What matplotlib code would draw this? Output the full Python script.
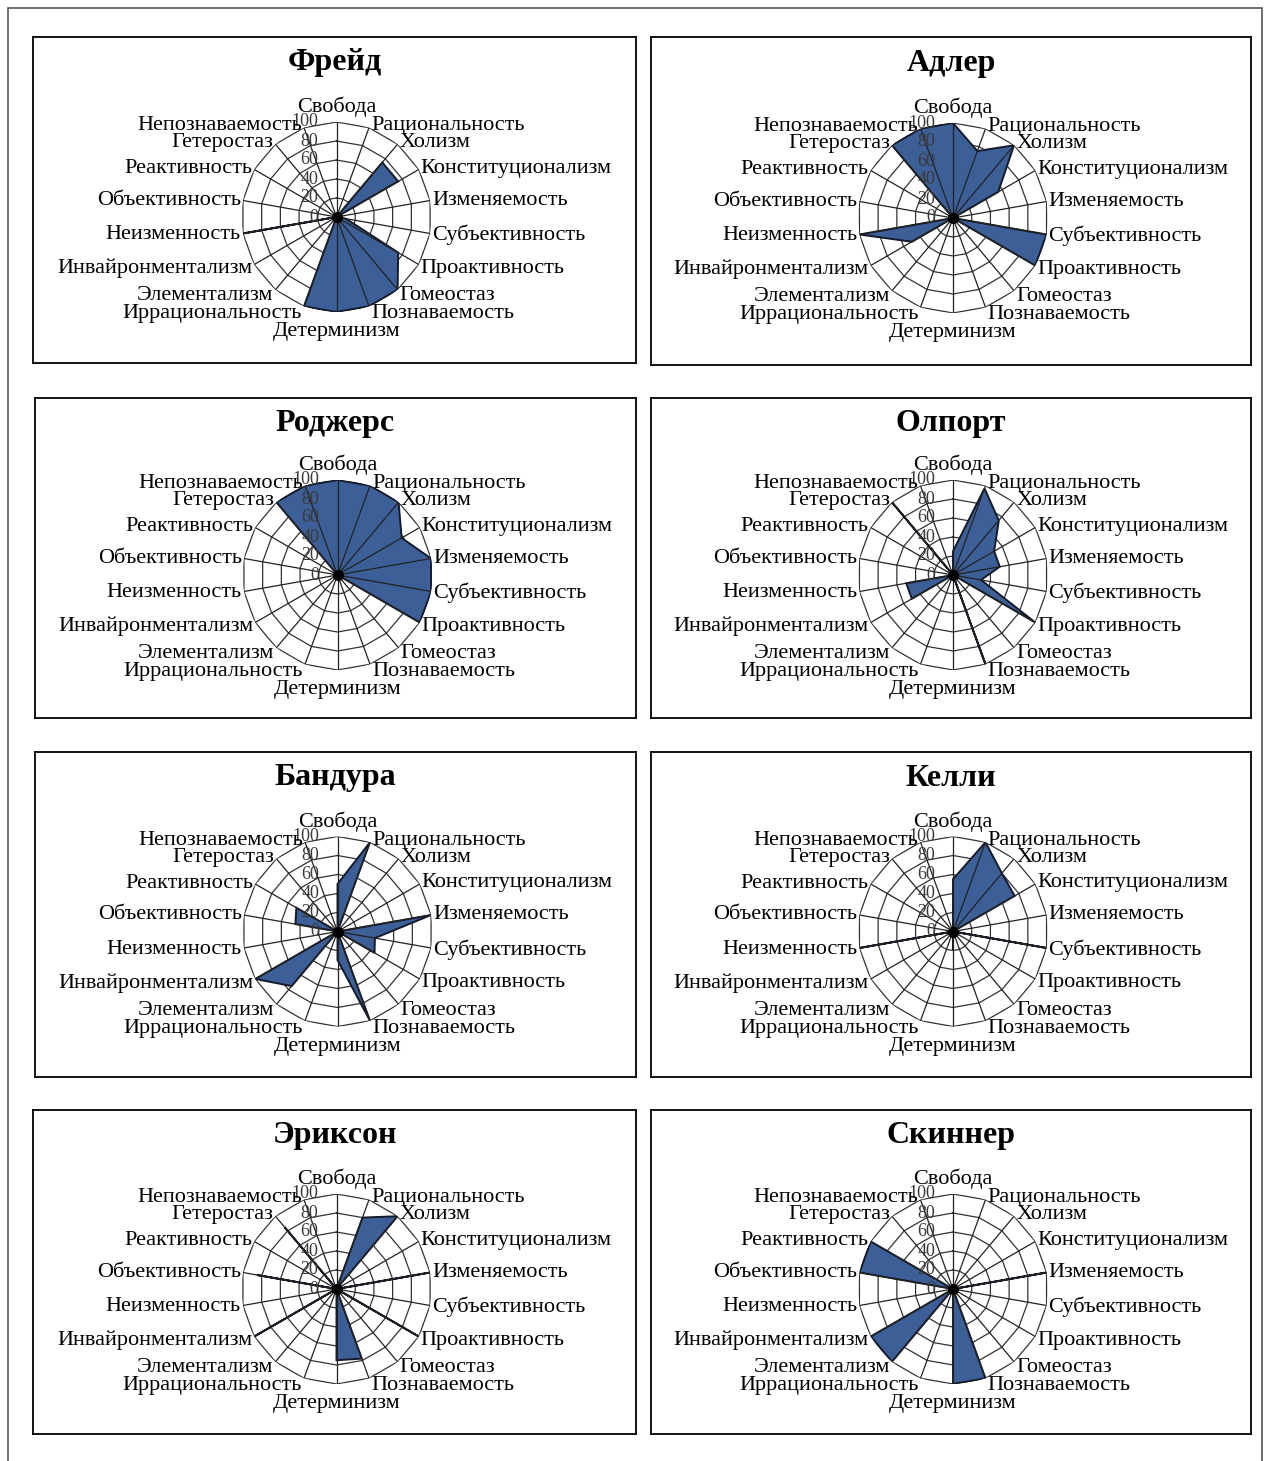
import matplotlib.pyplot as plt
import matplotlib.transforms as mtransforms
from matplotlib.patches import Rectangle
import numpy as np

plt.rcParams['font.family'] = ['Liberation Serif', 'DejaVu Serif']

categories = ['Свобода', 'Рациональность', 'Холизм', 'Конституционализм',
              'Изменяемость', 'Субъективность', 'Проактивность', 'Гомеостаз',
              'Познаваемость', 'Детерминизм', 'Иррациональность', 'Элементализм',
              'Инвайронментализм', 'Неизменность', 'Объективность', 'Реактивность',
              'Гетеростаз', 'Непознаваемость']

names = ['Фрейд', 'Адлер', 'Роджерс', 'Олпорт', 'Бандура', 'Келли', 'Эриксон', 'Скиннер']

freud = [0, 0, 75, 75, 0, 10, 75, 100, 100, 100, 100, 0, 0, 100, 0, 0, 0, 0]
adler = [100, 75, 100, 55, 0, 100, 100, 0, 0, 0, 0, 0, 50, 100, 0, 0, 100, 100]
rogers = [100, 100, 100, 78, 100, 100, 100, 0, 0, 0, 0, 0, 0, 0, 0, 0, 100, 100]
allport = [25, 97, 75, 50, 50, 30, 100, 0, 100, 0, 0, 0, 50, 50, 0, 0, 100, 0]
bandura = [50, 100, 0, 0, 100, 40, 45, 0, 100, 30, 0, 75, 100, 0, 45, 50, 0, 0]
kelly = [55, 100, 80, 75, 0, 100, 0, 0, 0, 20, 0, 0, 0, 100, 0, 0, 0, 0]
erikson = [0, 80, 100, 0, 100, 0, 100, 0, 78, 75, 0, 0, 100, 0, 85, 0, 85, 0]
skinner = [0, 0, 0, 0, 100, 0, 0, 0, 100, 100, 0, 100, 100, 0, 100, 100, 0, 0]

series = [freud, adler, rogers, allport, bandura, kelly, erikson, skinner]
ticks = [0, 20, 40, 60, 80, 100]

W, H = 1267, 1461
fig = plt.figure(figsize=(W / 100, H / 100), dpi=100)

# outer frame of the page
fig.patches.append(Rectangle((8 / W, -0.05), 1254 / W, 1.05 - 8 / H, transform=fig.transFigure,
                             fill=False, edgecolor='#555555', lw=1.2))

# panel boxes in pixels (x0, y0, x1, y1)
boxes = [(33, 37, 636, 363), (651, 37, 1251, 365),
         (35, 398, 636, 718), (651, 398, 1251, 718),
         (35, 752, 636, 1077), (651, 752, 1251, 1077),
         (33, 1110, 636, 1434), (651, 1110, 1251, 1434)]
R = 95
blue = '#3c5f98'
theta = np.arange(len(categories)) * 2 * np.pi / len(categories)
theta_c = np.append(theta, theta[0])

for name, vals, (x0, y0, x1, y1) in zip(names, series, boxes):
    box = fig.add_axes([x0 / W, 1 - y1 / H, (x1 - x0) / W, (y1 - y0) / H])
    box.set_xticks([])
    box.set_yticks([])
    for s in box.spines.values():
        s.set_linewidth(1.3)
    box.text(0.5, 1 - 26 / (y1 - y0), name, transform=box.transAxes,
             ha='center', va='center', fontsize=23, fontweight='bold')

    cx = (x0 + x1) / 2 + 2
    cy = (y0 + y1) / 2 + 17
    ax = fig.add_axes([(cx - R) / W, 1 - (cy + R) / H, 2 * R / W, 2 * R / H], projection='polar')
    ax.set_theta_zero_location('N')
    ax.set_theta_direction(-1)
    ax.set_ylim(0, 100)
    ax.set_axis_off()

    for lev in ticks[1:]:
        ax.plot(theta_c, [lev] * len(theta_c), color='#333333', lw=0.9, zorder=1)
    v = np.append(vals, vals[0])
    ax.fill(theta_c, v, facecolor=blue, edgecolor='#141a2a', lw=1.4, zorder=2)
    for t in theta:
        ax.plot([t, t], [0, 100], color='#222222', lw=0.9, zorder=3)
    ax.plot(0, 0, 'o', color='black', ms=7, zorder=4)

    for lev in ticks:
        tr = mtransforms.offset_copy(ax.transData, fig=fig, x=-18, y=0, units='dots')
        ax.text(0, lev, str(lev), transform=tr, ha='right', va='center',
                fontsize=13, color='#3a3a3a', zorder=5)

    for t, lab in zip(theta, categories):
        s, c = np.sin(t), np.cos(t)
        if abs(s) < 1e-6:
            ha = 'center'
            va = 'bottom' if c > 0 else 'top'
            dx, dy = 0, (5 if c > 0 else -10)
        else:
            ha = 'left' if s > 0 else 'right'
            va = 'center'
            dx = 2 if s > 0 else -2
            dy = 2 * c - 6 * max(0, -c)
        tr = mtransforms.offset_copy(ax.transData, fig=fig, x=dx, y=dy, units='dots')
        ax.text(t, 100, lab, transform=tr, ha=ha, va=va, fontsize=16, zorder=5)

fig.savefig('out.png', dpi=100)
